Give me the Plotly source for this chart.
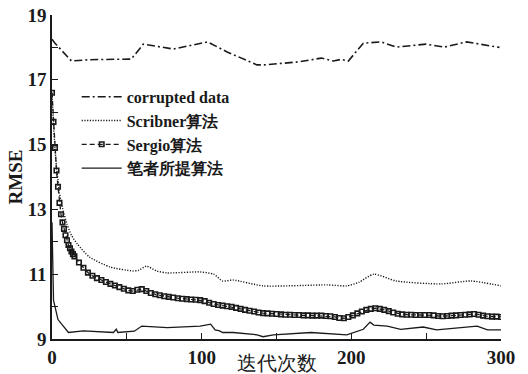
import plotly.graph_objects as go

# ---- data ----
corrupt_x = [0, 2, 13, 25, 53, 61, 81, 104, 117, 137, 142, 164, 180, 188, 193, 198, 208, 220, 230, 250, 262, 277, 299]
corrupt_y = [18.25, 18.13, 17.58, 17.62, 17.64, 18.1, 17.95, 18.17, 17.86, 17.46, 17.46, 17.55, 17.67, 17.58, 17.63, 17.58, 18.13, 18.17, 18.01, 18.1, 18.01, 18.17, 18.0]

scrib_x = [0, 1, 2, 3, 4, 5, 7, 10, 13, 17, 25, 39, 54, 58, 63, 70, 77, 99, 108, 114, 121, 141, 184, 197, 205, 215, 230, 260, 280, 300]
scrib_y = [16.6, 15.6, 14.9, 14.3, 13.9, 13.5, 13.05, 12.55, 12.2, 11.93, 11.53, 11.22, 11.1, 11.12, 11.25, 11.1, 11.04, 11.07, 11.0, 10.79, 10.82, 10.64, 10.67, 10.64, 10.75, 11.0, 10.79, 10.7, 10.79, 10.64]

sergio_x = [0, 1, 2, 3, 4, 5, 6, 7, 8, 9, 10, 11, 12, 13, 14,
            15, 18, 21, 24, 27, 30, 33, 36, 39, 42, 45, 48, 51, 54, 57, 60, 63, 66, 69, 72,
            75, 78, 81, 84, 87, 90, 93, 96, 99, 102, 105, 108, 111, 114, 117, 120, 123, 126,
            129, 132, 135, 138, 141, 144, 147, 150, 153, 156, 159, 162, 165, 168, 171, 174,
            177, 180, 183, 186, 189, 192, 195, 198, 201, 204, 207, 210, 213, 216, 219, 222,
            225, 228, 231, 234, 237, 240, 243, 246, 249, 252, 255, 258, 261, 264, 267, 270,
            273, 276, 279, 282, 285, 288, 291, 294, 297, 300]
sergio_y = [16.6, 15.7, 14.9, 14.2, 13.7, 13.2, 12.85, 12.6, 12.4, 12.2, 12.05, 11.9, 11.8, 11.7, 11.62,
            11.55, 11.36, 11.2, 11.05, 10.95, 10.88, 10.82, 10.76, 10.7, 10.65, 10.6, 10.55, 10.5, 10.48, 10.52, 10.54, 10.48, 10.42, 10.38, 10.35,
            10.32, 10.3, 10.28, 10.26, 10.24, 10.23, 10.22, 10.21, 10.2, 10.17, 10.12, 10.08, 10.05, 10.03, 10.01, 9.99, 9.96, 9.93,
            9.9, 9.87, 9.85, 9.82, 9.8, 9.79, 9.78, 9.77, 9.76, 9.75, 9.75, 9.74, 9.74, 9.73, 9.73, 9.72,
            9.72, 9.72, 9.71, 9.7, 9.68, 9.65, 9.64, 9.68, 9.73, 9.79, 9.85, 9.9, 9.93, 9.95, 9.93, 9.9,
            9.86, 9.82, 9.78, 9.76, 9.75, 9.75, 9.74, 9.74, 9.74, 9.74, 9.73, 9.71, 9.7, 9.71, 9.72, 9.73,
            9.74, 9.75, 9.76, 9.77, 9.75, 9.72, 9.7, 9.69, 9.69, 9.68]

prop_x = [0, 1, 4, 11, 21, 41, 43, 44, 55, 60, 77, 99, 106, 109, 112, 114, 121, 137, 141, 148, 173, 197, 208, 212.5, 215, 224, 233, 248, 257, 284, 291, 300]
prop_y = [12.6, 10.2, 9.6, 9.2, 9.25, 9.2, 9.3, 9.2, 9.24, 9.4, 9.35, 9.4, 9.46, 9.28, 9.25, 9.2, 9.2, 9.13, 9.07, 9.13, 9.2, 9.13, 9.3, 9.52, 9.43, 9.4, 9.3, 9.37, 9.28, 9.4, 9.28, 9.28]

names = ["corrupted data", "Scribner算法", "Sergio算法", "笔者所提算法"]

x_tickvals = [0, 50, 100, 150, 200, 250, 300]
x_ticktext = ["0", "", "100", "", "200", "", "300"]
y_tickvals = [9, 10, 11, 12, 13, 14, 15, 16, 17, 18, 19]
y_ticktext = ["9", "", "11", "", "13", "", "15", "", "17", "", "19"]

INK = "#1a1a1a"
SERIF = "Liberation Serif"

fig = go.Figure()
fig.add_trace(go.Scatter(x=corrupt_x, y=corrupt_y, mode="lines", name=names[0],
                         line=dict(color=INK, width=1.6, dash="8px,3px,2px,3px")))
fig.add_trace(go.Scatter(x=scrib_x, y=scrib_y, mode="lines", name=names[1],
                         line=dict(color=INK, width=1.4, dash="1.2px,1.5px", shape="spline", smoothing=0.6)))
fig.add_trace(go.Scatter(x=sergio_x, y=sergio_y, mode="lines+markers", name=names[2],
                         line=dict(color=INK, width=1.3, dash="5px,3px"),
                         marker=dict(symbol="square-open", size=4.5, color=INK, line=dict(width=1.6, color=INK))))
fig.add_trace(go.Scatter(x=prop_x, y=prop_y, mode="lines", name=names[3],
                         line=dict(color=INK, width=1.3)))

fig.update_layout(
    width=528, height=374,
    margin=dict(l=52, r=27, t=15, b=35),
    paper_bgcolor="white", plot_bgcolor="white",
    font=dict(family=SERIF, color=INK, size=17),
    showlegend=True,
    legend=dict(x=0.055, y=0.80, xanchor="left", yanchor="top",
                bgcolor="rgba(0,0,0,0)", font=dict(size=16, family=SERIF, color=INK, weight="bold"),
                tracegroupgap=0, itemwidth=40),
    xaxis=dict(range=[0, 300], tickvals=x_tickvals, ticktext=x_ticktext, automargin=False,
               ticks="inside", ticklen=6, tickwidth=1.2, tickcolor=INK,
               showline=True, linecolor=INK, linewidth=1.5, showgrid=False, zeroline=False,
               tickfont=dict(size=19, family=SERIF, color=INK, weight="bold"),
               title=dict(text="迭代次数", standoff=0, font=dict(size=20, family=SERIF, color=INK))),
    yaxis=dict(range=[9, 19], tickvals=y_tickvals, ticktext=y_ticktext, automargin=False,
               ticks="inside", ticklen=6, tickwidth=1.2, tickcolor=INK,
               showline=True, linecolor=INK, linewidth=1.5, showgrid=False, zeroline=False,
               tickfont=dict(size=19, family=SERIF, color=INK, weight="bold"),
               title=dict(text="RMSE", standoff=0, font=dict(size=19, family=SERIF, color=INK, weight="bold"))),
)

fig.write_html("out.html", config={"displayModeBar": False},
               post_script="document.body.style.margin='0';")
